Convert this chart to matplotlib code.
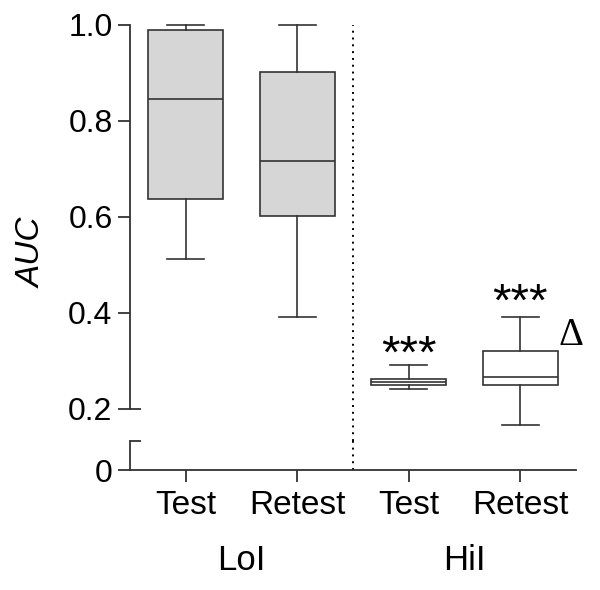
import matplotlib
matplotlib.use("Agg")
import matplotlib.pyplot as plt
import matplotlib.transforms as mtransforms

# ---- data ----
conditions = ["Test", "Retest", "Test", "Retest"]
groups = ["LoI", "HiI"]
whislo = [0.512, 0.392, 0.242, 0.167]
q1 = [0.637, 0.602, 0.251, 0.251]
med = [0.846, 0.717, 0.257, 0.266]
q3 = [0.990, 0.902, 0.262, 0.321]
whishi = [1.000, 1.000, 0.292, 0.391]
upper_ticks = [0.2, 0.4, 0.6, 0.8, 1.0]
upper_ticklabels = ["0.2", "0.4", "0.6", "0.8", "1.0"]
sig_labels = ["", "", "***", "***"]
sig_y = [None, None, 0.287, 0.395]
delta_label = "\u0394"
delta_x, delta_y = 4.455, 0.333

plt.rcParams["font.family"] = ["Liberation Sans", "DejaVu Sans"]

W, H = 600, 590
fig = plt.figure(figsize=(W / 100, H / 100), dpi=100)

def px_axes(x0, y_top, x1, y_bot):
    return fig.add_axes([x0 / W, (H - y_bot) / H, (x1 - x0) / W, (y_bot - y_top) / H])

scale = 480.0  # px per unit on upper segment
y_one = 25
up_bottom_px = 441
up_top_px = 15
lo_top_px = 441
lo_bottom_px = 470

ax_up = px_axes(130, up_top_px, 576, up_bottom_px)
ax_lo = px_axes(130, lo_top_px, 576, lo_bottom_px)

up_ymin = 1.0 - (up_bottom_px - y_one) / scale
up_ymax = 1.0 + (y_one - up_top_px) / scale
ax_up.set_ylim(up_ymin, up_ymax)
lo_ymax = (lo_bottom_px - lo_top_px) / scale
ax_lo.set_ylim(0, lo_ymax)

edge = "#333333"
lw = 1.2
fills = ["#d6d6d6", "#d6d6d6", "white", "white"]
stats = []
for i in range(len(conditions)):
    stats.append(dict(whislo=whislo[i], q1=q1[i], med=med[i], q3=q3[i],
                      whishi=whishi[i], fliers=[], label=conditions[i]))
positions = [1, 2, 3, 4]
bp = ax_up.bxp(stats, positions=positions, widths=0.67, patch_artist=True,
               showfliers=False,
               boxprops=dict(edgecolor=edge, linewidth=lw),
               medianprops=dict(color=edge, linewidth=lw),
               whiskerprops=dict(color=edge, linewidth=lw),
               capprops=dict(color=edge, linewidth=lw))
for patch, fc in zip(bp["boxes"], fills):
    patch.set_facecolor(fc)

for ax in (ax_up, ax_lo):
    ax.set_xlim(0.5, 4.5)
    ax.patch.set_visible(False)
    for s in ("top", "right"):
        ax.spines[s].set_visible(False)
    ax.spines["left"].set_color(edge)
    ax.spines["left"].set_linewidth(1.3)
    ax.tick_params(axis="y", direction="out", length=8.6, width=1.3,
                   color=edge, labelsize=23, pad=4)

# dotted separator from 0 up to 1.0
dot_style = dict(color="black", linewidth=1.4, linestyle=(0, (1, 2.5)))
ax_up.axvline(2.5, ymax=(1.0 - up_ymin) / (up_ymax - up_ymin), **dot_style)
ax_lo.axvline(2.5, **dot_style)

ax_up.spines["bottom"].set_visible(False)
ax_up.set_xticks([])
ax_up.spines["left"].set_bounds(0.2, 1.0)
ax_up.set_yticks(upper_ticks)
ax_up.set_yticklabels(upper_ticklabels)

ax_lo.spines["left"].set_bounds(0, lo_ymax)
ax_lo.spines["bottom"].set_color(edge)
ax_lo.spines["bottom"].set_linewidth(1.3)
ax_lo.set_yticks([0])
ax_lo.set_yticklabels(["0"])
ax_lo.set_xticks(positions)
ax_lo.set_xticklabels(conditions)
ax_lo.tick_params(axis="x", direction="out", length=8.6, width=1.3,
                  color=edge, labelsize=24, pad=6)

# break caps (inward short ticks)
cap_w = 11 / 446
tr_up = mtransforms.blended_transform_factory(ax_up.transAxes, ax_up.transData)
ax_up.plot([0, cap_w], [0.2, 0.2], color=edge, linewidth=1.3,
           transform=tr_up, clip_on=False, solid_capstyle="butt")
tr_lo = mtransforms.blended_transform_factory(ax_lo.transAxes, ax_lo.transData)
ax_lo.plot([0, cap_w], [lo_ymax, lo_ymax], color=edge, linewidth=1.3,
           transform=tr_lo, clip_on=False, solid_capstyle="butt")

# significance markers
for pos, lab, sy in zip(positions, sig_labels, sig_y):
    if lab:
        ax_up.text(pos, sy, lab, ha="center", va="baseline",
                   fontsize=34, color="black")
ax_up.text(delta_x, delta_y, delta_label, ha="center", va="baseline", fontsize=28,
           family=["Liberation Serif", "DejaVu Serif"], color="black")

# group labels
tr_grp = mtransforms.blended_transform_factory(ax_lo.transData, fig.transFigure)
for gx, g in zip([1.5, 3.5], groups):
    ax_lo.text(gx, (H - 560) / H, g, ha="center", va="center", fontsize=25,
               transform=tr_grp)

fig.text(32 / W, (H - 253) / H, "AUC", rotation=90, ha="center", va="center",
         fontsize=24, style="italic")

fig.savefig("out.png", dpi=100)
